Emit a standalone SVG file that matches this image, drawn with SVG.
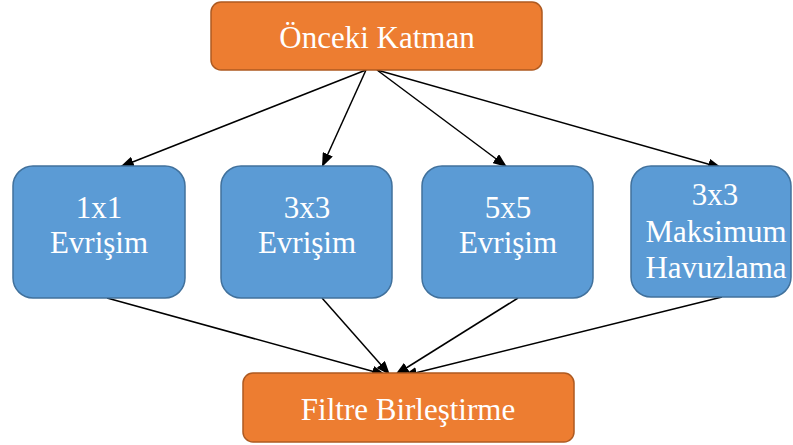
<svg xmlns="http://www.w3.org/2000/svg" width="793" height="445" viewBox="0 0 793 445">
  <style>
    .orange { fill: #ED7D31; stroke: #AE5A21; stroke-width: 1.5; }
    .blue { fill: #5B9BD5; stroke: #41719C; stroke-width: 1.5; }
    .label { fill: #FFFFFF; font-size: 31px; text-anchor: middle; }
    .edge { stroke: #000000; stroke-width: 1.5; fill: none; marker-end: url(#arrow); }
  </style>
  <defs>
    <marker id="arrow" viewBox="0 0 14 11" refX="14" refY="5.5" markerWidth="14" markerHeight="11" markerUnits="userSpaceOnUse" orient="auto">
      <path d="M0,0 L14,5.5 L0,11 Z" fill="#000000"/>
    </marker>
  </defs>

  <g id="connectors">
    <line class="edge" x1="366" y1="70" x2="120" y2="167"/>
    <line class="edge" x1="366" y1="70" x2="322" y2="167"/>
    <line class="edge" x1="377" y1="70" x2="507" y2="167"/>
    <line class="edge" x1="377" y1="70" x2="722" y2="168"/>
    <line class="edge" x1="107" y1="298" x2="386" y2="375"/>
    <line class="edge" x1="322" y1="298" x2="390" y2="375"/>
    <line class="edge" x1="518" y1="298" x2="395" y2="375"/>
    <line class="edge" x1="722" y1="297" x2="403" y2="376"/>
  </g>

  <g font-family="'Liberation Serif', 'DejaVu Serif', serif">
    <g id="onceki-katman">
      <rect class="orange" x="211" y="2" width="331" height="68" rx="10"/>
      <text class="label" x="377" y="48">Önceki Katman</text>
    </g>

    <g id="evrisim-1x1">
      <rect class="blue" x="13" y="166" width="172" height="132" rx="20"/>
      <text class="label" x="99" y="218">1x1</text>
      <text class="label" x="99" y="253">Evrişim</text>
    </g>

    <g id="evrisim-3x3">
      <rect class="blue" x="221" y="166" width="171" height="132" rx="20"/>
      <text class="label" x="307" y="218">3x3</text>
      <text class="label" x="307" y="253">Evrişim</text>
    </g>

    <g id="evrisim-5x5">
      <rect class="blue" x="422" y="166" width="171" height="132" rx="20"/>
      <text class="label" x="508" y="218">5x5</text>
      <text class="label" x="508" y="253">Evrişim</text>
    </g>

    <g id="maksimum-havuzlama">
      <rect class="blue" x="631" y="166" width="160" height="131" rx="20"/>
      <text class="label" x="715" y="205">3x3</text>
      <text class="label" x="716" y="242">Maksimum</text>
      <text class="label" x="716" y="278">Havuzlama</text>
    </g>

    <g id="filtre-birlestirme">
      <rect class="orange" x="243" y="373" width="331" height="69" rx="10"/>
      <text class="label" x="408" y="420">Filtre Birleştirme</text>
    </g>
  </g>
</svg>
